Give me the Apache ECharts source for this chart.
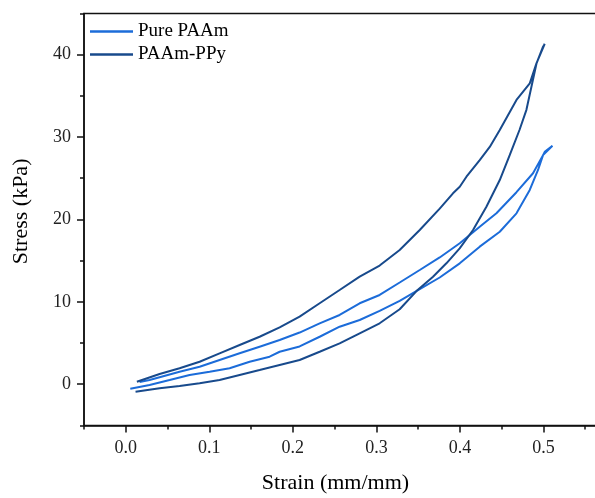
<!DOCTYPE html>
<html>
<head>
<meta charset="utf-8">
<script src="https://cdn.jsdelivr.net/npm/echarts@6/dist/echarts.min.js"></script>
<style>
html,body{margin:0;padding:0;background:#fff;}
#chart{width:595px;height:498px;}
</style>
</head>
<body>
<div id="chart"></div>
<script>
// Pure PAAm loop (strain, stress kPa)
var purePAAmStrain = [0.0054,0.0285,0.0525,0.0764,0.1004,0.1243,0.1483,0.1722,0.1842,0.2081,0.2321,0.2560,0.2800,0.3039,0.3279,0.3519,0.3758,0.3998,0.4237,0.4477,0.4677,0.4836,0.4935,0.4995,0.5108,
  0.5015,0.4995,0.4875,0.4677,0.4437,0.4237,0.3998,0.3758,0.3519,0.3279,0.3039,0.2800,0.2560,0.2321,0.2081,0.1842,0.1602,0.1363,0.1123,0.0884,0.0644,0.0285,0.0165];
var purePAAmStress = [-0.55,-0.10,0.51,1.12,1.52,1.93,2.73,3.34,3.94,4.58,5.76,6.98,7.79,8.90,10.12,11.55,12.95,14.67,16.69,18.50,20.74,23.57,26.00,27.80,28.94,
  28.20,27.80,25.60,23.30,20.74,19.10,17.10,15.38,13.86,12.34,10.83,9.82,8.40,7.39,6.27,5.36,4.55,3.75,2.94,2.12,1.52,0.51,0.27];

// PAAm-PPy loop
var ppyStrain = [0.0117,0.0405,0.0644,0.0884,0.1123,0.1363,0.1602,0.1842,0.2081,0.2321,0.2560,0.2800,0.3039,0.3279,0.3480,0.3678,0.3838,0.3997,0.4157,0.4317,0.4477,0.4596,0.4713,0.4796,0.4856,0.4916,0.4995,0.5015,
  0.4916,0.4836,0.4677,0.4477,0.4357,0.4237,0.4078,0.3998,0.3917,0.3758,0.3519,0.3279,0.3039,0.2800,0.2560,0.2321,0.2081,0.1842,0.1602,0.1363,0.1123,0.0884,0.0644,0.0405,0.0133];
var ppyStress = [-0.91,-0.50,-0.22,0.11,0.51,1.12,1.72,2.33,2.94,3.94,4.96,6.18,7.39,9.10,11.30,13.05,14.67,16.49,18.71,21.54,24.78,27.80,30.85,33.30,36.10,38.90,40.96,41.30,
  38.94,36.50,34.50,30.85,28.80,27.20,25.18,23.97,23.17,21.30,18.71,16.29,14.40,13.05,11.43,9.82,8.20,6.90,5.76,4.76,3.75,2.73,1.93,1.24,0.30];

var seriesNames = ['Pure PAAm', 'PAAm-PPy'];
var xTickLabels = [0, 0.1, 0.2, 0.3, 0.4, 0.5];
var xMinorTicks = [-0.05, 0.05, 0.15, 0.25, 0.35, 0.45, 0.55];
var yTickLabels = [0, 10, 20, 30, 40];
var yMinorTicks = [-5, 5, 15, 25, 35, 45];

function pairs(xs, ys){ return xs.map(function(x,i){ return [x, ys[i]]; }); }

var font = '"Liberation Serif", "Times New Roman", serif';
var axisColor = '#111';

var chart = echarts.init(document.getElementById('chart'));
chart.setOption({
  animation: false,
  backgroundColor: '#fff',
  grid: { left: 84, top: 13.4, width: 543, height: 412, containLabel: false, outerBoundsMode: 'none',
    show: true, borderColor: axisColor, borderWidth: 1.5, backgroundColor: 'transparent' },
  legend: {
    data: seriesNames, orient: 'vertical', left: 90, top: 22, padding: 0,
    icon: 'rect', itemWidth: 43, itemHeight: 2.5, itemGap: 4,
    textStyle: { fontFamily: font, fontSize: 19, color: '#000' }
  },
  xAxis: [{
    type: 'value', min: -0.05, max: 0.6, position: 'bottom',
    name: 'Strain (mm/mm)', nameLocation: 'middle', nameGap: 47,
    nameTextStyle: { fontFamily: font, fontSize: 22, color: '#000', padding: [0, 40, 0, 0] },
    axisLine: { show: true, onZero: false, lineStyle: { color: axisColor, width: 1.5 } },
    axisTick: { show: true, customValues: xTickLabels, length: 7, lineStyle: { color: axisColor, width: 1.5 } },
    axisLabel: { customValues: xTickLabels, margin: 14, fontFamily: font, fontSize: 18, color: '#222',
      formatter: function(v){ return v.toFixed(1); } },
    splitLine: { show: false }
  }, {
    type: 'value', min: -0.05, max: 0.6, position: 'bottom',
    axisLine: { show: false, onZero: false },
    axisTick: { show: true, customValues: xMinorTicks, length: 4, lineStyle: { color: axisColor, width: 1.5 } },
    axisLabel: { show: false },
    splitLine: { show: false }
  }],
  yAxis: [{
    type: 'value', min: -5, max: 45, position: 'left',
    name: 'Stress (kPa)', nameLocation: 'middle', nameGap: 52,
    nameTextStyle: { fontFamily: font, fontSize: 22, color: '#000', padding: [0, 0, 0, 16] },
    axisLine: { show: true, onZero: false, lineStyle: { color: axisColor, width: 1.5 } },
    axisTick: { show: true, customValues: yTickLabels, length: 7, lineStyle: { color: axisColor, width: 1.5 } },
    axisLabel: { customValues: yTickLabels, margin: 13, fontFamily: font, fontSize: 18, color: '#222' },
    splitLine: { show: false }
  }, {
    type: 'value', min: -5, max: 45, position: 'left',
    axisLine: { show: false, onZero: false },
    axisTick: { show: true, customValues: yMinorTicks, length: 4, lineStyle: { color: axisColor, width: 1.5 } },
    axisLabel: { show: false },
    splitLine: { show: false }
  }],
  series: [{
    name: seriesNames[0], type: 'line', data: pairs(purePAAmStrain, purePAAmStress),
    symbol: 'none', color: '#1c6cd9', lineStyle: { width: 2, color: '#1c6cd9' }
  }, {
    name: seriesNames[1], type: 'line', data: pairs(ppyStrain, ppyStress),
    symbol: 'none', color: '#184a8c', lineStyle: { width: 2, color: '#184a8c' }
  }]
});
</script>
</body>
</html>
